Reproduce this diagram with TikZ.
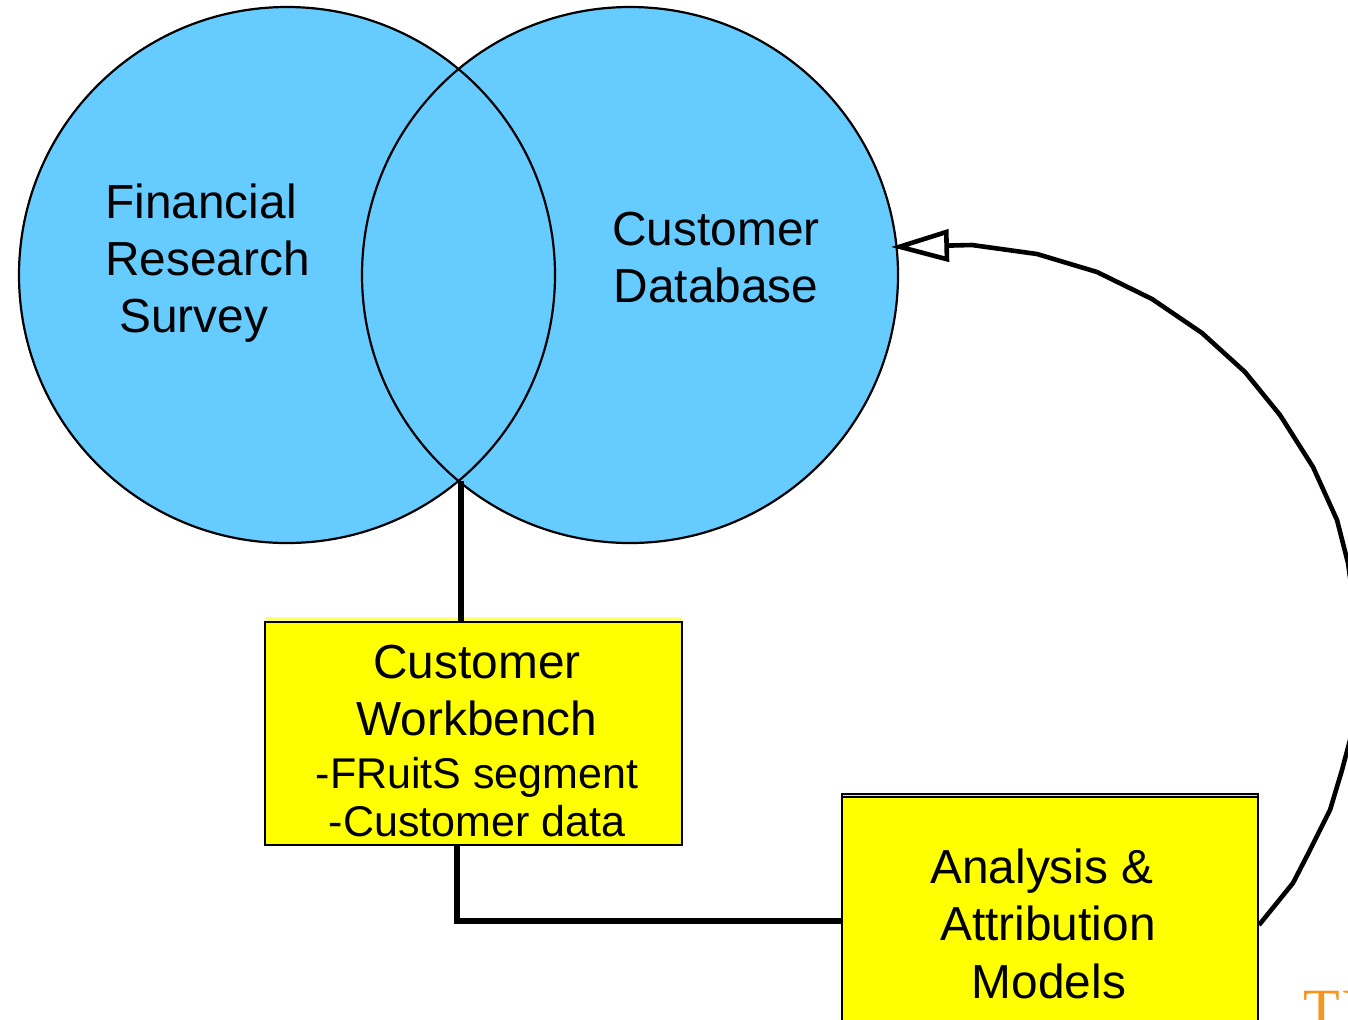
\documentclass[tikz,border=0pt]{standalone}
\usepackage{fontspec}
\setmainfont{Liberation Sans}
\newfontfamily\logofont{Liberation Serif}
\usetikzlibrary{arrows.meta}
\definecolor{venn}{RGB}{102,204,255}
\definecolor{boxyellow}{RGB}{255,255,0}
\definecolor{logoorange}{RGB}{247,148,29}
\begin{document}
\begin{tikzpicture}[x=0.5pt,y=-0.5pt,
  set/.style={circle, minimum size=268pt, inner sep=0pt, fill=venn},
  setline/.style={line width=1.1pt},
  box/.style={rectangle, fill=boxyellow, draw=black, line width=1pt, inner sep=0pt},
  lbl/.style={inner sep=0pt, font=\fontsize{23.9}{28}\selectfont},
  small/.style={inner sep=0pt, font=\fontsize{21.5}{26}\selectfont},
  link/.style={line width=3pt},
  feedback/.style={line width=2.3pt, line join=round,
    -{Triangle[open, length=29pt, width=16pt, line width=2.3pt]}},
  logo/.style={inner sep=0pt, text=logoorange, font=\logofont\fontsize{30}{30}\selectfont}]
\useasboundingbox (0,0) rectangle (1348,1019);
\clip (0,0) rectangle (1348,1019);

% the two overlapping sets
\node[set] (fin) at (287,275) {};
\node[set] (cust) at (630,275) {};
\draw[setline] (fin.center) circle[radius=268];
\draw[setline] (cust.center) circle[radius=268];

\node[lbl, anchor=base west] (finA) at (105,218) {Financial};
\node[lbl, anchor=base west] (finB) at (105,275) {Research};
\node[lbl, anchor=base west] (finC) at (119,332) {Survey};

\node[lbl, anchor=base] (custA) at (716,245) {Customer};
\node[lbl, anchor=base] (custB) at (716,302) {Database};

% workbench box
\fill[boxyellow!55] (265,617) rectangle (682,622);
\node[box, minimum width=208.5pt, minimum height=111.5pt] (wb) at (473.5,733.5) {};
\node[lbl, anchor=base] (wbA) at (477,678) {Customer};
\node[lbl, anchor=base] (wbB) at (477,735) {Workbench};
\node[small, anchor=base] (wbC) at (477,788) {-FRuitS segment};
\node[small, anchor=base] (wbD) at (477,836) {-Customer data};

% analysis box
\node[box, minimum width=208pt, minimum height=131pt] (am) at (1050,925) {};
\draw[line width=1pt] ([yshift=-2pt]am.north west) -- ([yshift=-2pt]am.north east);
\node[lbl, anchor=base] (amA) at (1042,883) {Analysis \&};
\node[lbl, anchor=base] (amB) at (1048,940) {Attribution};
\node[lbl, anchor=base] (amC) at (1049,998) {Models};

% connectors
\coordinate (meet) at (461,481);
\draw[link] (meet) -- (meet |- wb.north);
\draw[link] ([xshift=-8.25pt]wb.south) |- ([yshift=2pt]am.west);
\draw[feedback] (am.east) -- (1293,883) -- (1310,850) -- (1330,810) -- (1342,770)
  -- (1350,740) -- (1356,690) -- (1356,620) -- (1348,563) -- (1337,520)
  -- (1313,467) -- (1280,415) -- (1245,372) -- (1202,333) -- (1152,299)
  -- (1097,272) -- (1037,254) -- (972,245) -- ([xshift=-3pt]cust.6.5);

% corner logo
\node[logo, anchor=base west] (mark) at (1303,1030) {TX};
\end{tikzpicture}
\end{document}
